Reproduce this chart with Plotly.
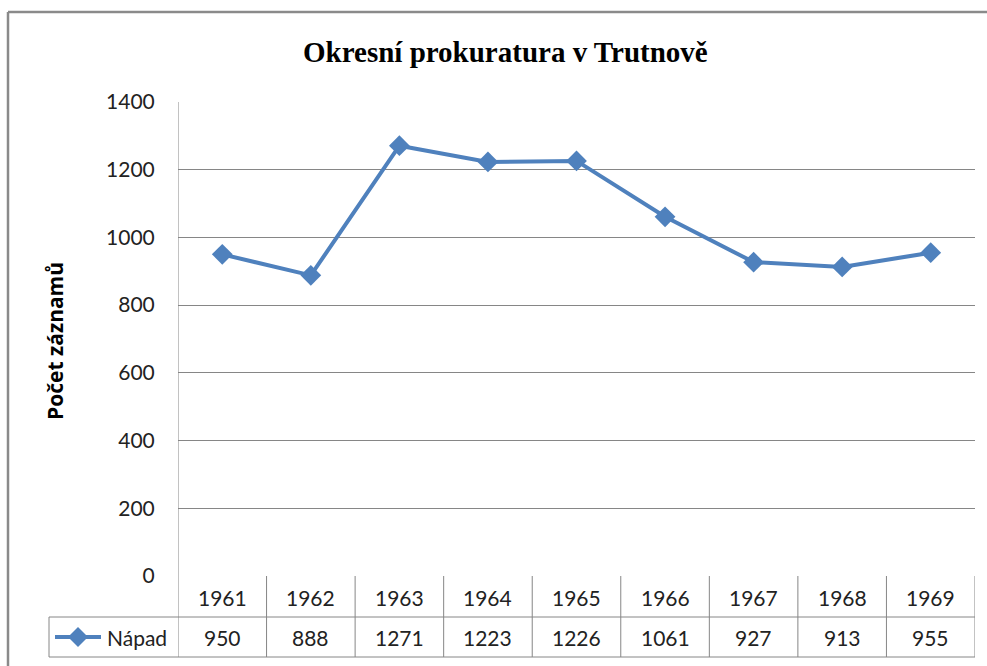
import plotly.graph_objects as go

years = ["1961", "1962", "1963", "1964", "1965", "1966", "1967", "1968", "1969"]
napad = [950, 888, 1271, 1223, 1226, 1061, 927, 913, 955]
series_name = "Nápad"
title_text = "Okresní prokuratura v Trutnově"
y_title = "Počet záznamů"
y_ticks = [0, 200, 400, 600, 800, 1000, 1200, 1400]

W, H = 987, 666
L, R, T, B = 178, 12, 102, 90
PW, PH = W - L - R, H - T - B

def px(x):
    return (x - L) / PW

def py(y):
    return (H - B - y) / PH

BLUE = "#4F81BD"
GRID = "#868686"
TXT = "#000000"
TICKFONT = dict(family="Lato, 'Open Sans', sans-serif", size=21, color="#222222")

idx = list(range(len(years)))

fig = go.Figure()
fig.add_trace(go.Scatter(
    x=idx, y=napad, mode="lines+markers", name=series_name,
    line=dict(color=BLUE, width=4),
    marker=dict(symbol="diamond", size=16, color=BLUE),
    showlegend=False,
))

shapes = []
annotations = []

# outer chart border
shapes.append(dict(type="line", xref="paper", yref="paper", x0=px(8), x1=px(990), y0=py(12), y1=py(12),
                   line=dict(color="#8a8a8a", width=2.5)))
shapes.append(dict(type="line", xref="paper", yref="paper", x0=px(8), x1=px(8), y0=py(12), y1=py(670),
                   line=dict(color="#8a8a8a", width=2.5)))

# left axis line through plot and table
shapes.append(dict(type="line", xref="x", yref="paper", x0=-0.5, x1=-0.5, y0=py(657), y1=1,
                   line=dict(color=GRID, width=1)))
# table vertical lines
for i in range(1, len(years) + 1):
    shapes.append(dict(type="line", xref="x", yref="paper", x0=i - 0.5, x1=i - 0.5, y0=py(657), y1=0,
                       line=dict(color=GRID, width=1)))
# table horizontal lines
shapes.append(dict(type="line", xref="paper", yref="paper", x0=px(49), x1=1, y0=py(617), y1=py(617),
                   line=dict(color=GRID, width=1)))
shapes.append(dict(type="line", xref="paper", yref="paper", x0=px(49), x1=1, y0=py(657), y1=py(657),
                   line=dict(color=GRID, width=1)))
shapes.append(dict(type="line", xref="paper", yref="paper", x0=px(49), x1=px(49), y0=py(617), y1=py(657),
                   line=dict(color=GRID, width=1)))
# legend key line + diamond
shapes.append(dict(type="line", xref="paper", yref="paper", x0=px(55), x1=px(101), y0=py(637), y1=py(637),
                   line=dict(color=BLUE, width=4)))
cx, cy, r = 78, 637, 10
shapes.append(dict(type="path", xref="paper", yref="paper",
                   path="M {} {} L {} {} L {} {} L {} {} Z".format(px(cx - r), py(cy), px(cx), py(cy - r),
                                                                px(cx + r), py(cy), px(cx), py(cy + r)),
                   fillcolor=BLUE, line=dict(width=0)))

for i, (yr, v) in enumerate(zip(years, napad)):
    annotations.append(dict(x=i, y=py(597), xref="x", yref="paper", text=yr, showarrow=False,
                            font=TICKFONT, xanchor="center", yanchor="middle"))
    annotations.append(dict(x=i, y=py(637), xref="x", yref="paper", text=str(v), showarrow=False,
                            font=TICKFONT, xanchor="center", yanchor="middle"))

annotations.append(dict(x=px(105), y=py(637), xref="paper", yref="paper", text=series_name, showarrow=False,
                        font=TICKFONT, xanchor="left", yanchor="middle"))
annotations.append(dict(x=px(505), y=py(52), xref="paper", yref="paper", text="<b>" + title_text + "</b>",
                        showarrow=False, font=dict(family="Liberation Serif, 'Times New Roman', serif", size=29, color=TXT),
                        xanchor="center", yanchor="middle"))
annotations.append(dict(x=px(55), y=py(341), xref="paper", yref="paper", text="<b>" + y_title + "</b>",
                        showarrow=False, textangle=-90,
                        font=dict(family="'Open Sans', sans-serif", size=21, color=TXT),
                        xanchor="center", yanchor="middle"))

fig.update_layout(
    width=W, height=H,
    margin=dict(l=L, r=R, t=T, b=B),
    paper_bgcolor="white", plot_bgcolor="white",
    xaxis=dict(range=[-0.5, len(years) - 0.5], showticklabels=False, showgrid=False, zeroline=False,
               showline=False, ticks=""),
    yaxis=dict(range=[0, 1400], tickvals=y_ticks, showgrid=True, gridcolor=GRID, gridwidth=1,
               zeroline=False, showline=False, ticks="outside", ticklen=18, tickcolor="rgba(0,0,0,0)",
               tickfont=TICKFONT),
    shapes=shapes,
    annotations=annotations,
    showlegend=False,
)

fig.write_html("out.html", config={"displayModeBar": False},
               post_script="document.body.style.margin='0';document.body.style.overflow='hidden';")
